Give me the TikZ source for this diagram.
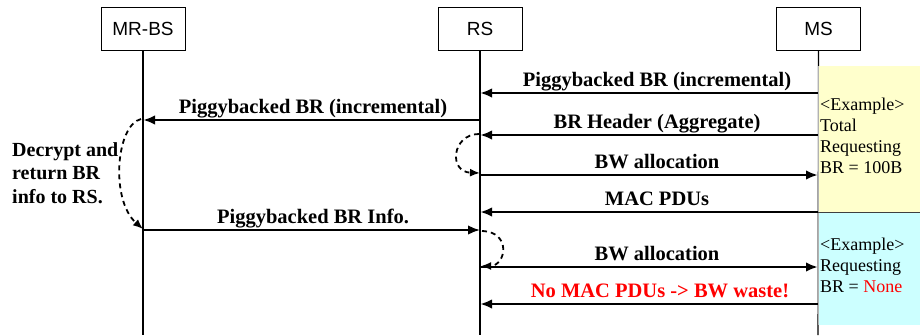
\documentclass[tikz,border=0pt]{standalone}
\usepackage{fontspec}
\setmainfont{Liberation Serif}
\setsansfont{Liberation Sans}
\usetikzlibrary{arrows.meta}
\definecolor{noteyellow}{HTML}{FFFFCC}
\definecolor{notecyan}{HTML}{CCFFFF}
\definecolor{redtext}{HTML}{FF0000}
\begin{document}
\begin{tikzpicture}[x=1pt,y=-1pt,
  entity/.style={draw,line width=0.6pt,minimum width=84pt,minimum height=43pt,inner sep=0pt,font=\sffamily\fontsize{19}{19}\selectfont},
  lifeline/.style={line width=1.1pt},
  msg/.style={line width=2.4pt,-{Latex[length=12pt,width=9.5pt]}},
  lbl/.style={font=\fontsize{20.5}{20.5}\selectfont\bfseries,inner sep=0pt,anchor=base},
  loop/.style={line width=1.8pt,dash pattern=on 5pt off 4pt,-{Latex[length=10pt,width=8pt]}},
  note/.style={font=\fontsize{18}{21}\selectfont,align=left,inner sep=0pt,anchor=north west}
]
\useasboundingbox (0,0) rectangle (920,335);
% entities
\node[entity] (mrbs) at (143,28.5) {MR-BS};
\node[entity] (rs) at (480,28.5) {RS};
\node[entity] (ms) at (818.5,28.5) {MS};
% lifelines
\coordinate (mrbsEnd) at (143,335);
\coordinate (rsEnd) at (480,335);
\coordinate (msEnd) at (818,335);
\draw[lifeline] (mrbs.south) -- (mrbsEnd);
\draw[lifeline] (rs.south) -- (rsEnd);
\draw[lifeline] (ms.south) -- (msEnd);
% notes
\fill[noteyellow] (818,66) rectangle (920,212);
\fill[notecyan] (818,212) rectangle (920,325);
\draw[gray!60,line width=0.6pt] (818.3,66) -- (818.3,325);
\draw[black!75,line width=0.8pt] (818,212.5) -- (920,212.5);
\node[note] (note1) at (820,98) {<Example>\\Total\\Requesting\\BR = 100B};
\node[note] (note2) at (820,238) {<Example>\\Requesting\\BR = \textcolor{redtext}{None}};
% message coordinates
\foreach \n/\y in {1/93,2/120,3/135,4/175,5/212,6/230,7/267,8/304}{
  \coordinate (m\n) at (143,\y);
  \coordinate (r\n) at (480,\y);
  \coordinate (s\n) at (818,\y);
}
% messages
\draw[msg] (s1) -- (r1);
\node[lbl] (l1) at (657,86) {Piggybacked BR (incremental)};
\draw[msg] (r2) -- (m2);
\node[lbl] (l2) at (313,113) {Piggybacked BR (incremental)};
\draw[msg] (s3) -- (r3);
\node[lbl] (l3) at (657,128) {BR Header (Aggregate)};
\draw[msg] (r4) -- (s4);
\node[lbl] (l4) at (657,168) {BW allocation};
\draw[msg] (s5) -- (r5);
\node[lbl] (l5) at (657,205) {MAC PDUs};
\draw[msg,line width=2pt] (m6) -- (r6);
\node[lbl] (l6) at (313,223) {Piggybacked BR Info.};
\draw[msg] (r7) -- (s7);
\node[lbl] (l7) at (657,260) {BW allocation};
\draw[msg] (s8) -- (r8);
\node[lbl,text=redtext] (l8) at (660,297) {No MAC PDUs -> BW waste!};
% dashed loops
\coordinate (lp1a) at (141,119);
\coordinate (lp1b) at (143,229);
\draw[loop] (lp1a) .. controls (116,125) and (110,200) .. (lp1b);
\coordinate (lp2a) at (479,134);
\coordinate (lp2b) at (480,173);
\draw[loop] (lp2a) .. controls (452,134) and (448,172) .. (lp2b);
\coordinate (lp3a) at (482,231);
\coordinate (lp3b) at (481,266);
\draw[loop] (lp3a) .. controls (512,232) and (506,266) .. (lp3b);
% side text
\node[font=\fontsize{20}{23.5}\selectfont\bfseries,align=left,inner sep=0pt,anchor=north west] (side) at (12,142) {Decrypt and\\return BR\\info to RS.};
\end{tikzpicture}
\end{document}
